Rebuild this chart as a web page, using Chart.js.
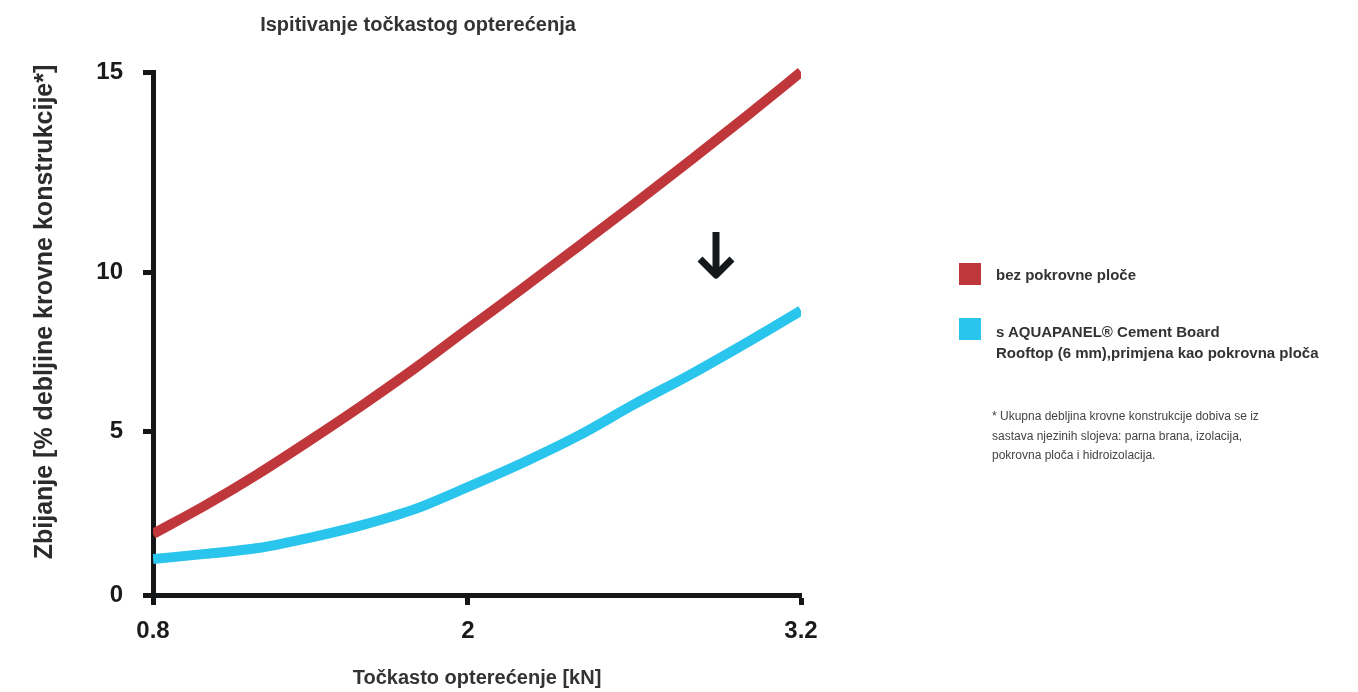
<!DOCTYPE html>
<html>
<head>
<meta charset="utf-8">
<title>Ispitivanje točkastog opterećenja</title>
<script src="https://cdn.jsdelivr.net/npm/chart.js@4.4.1/dist/chart.umd.min.js"></script>
<style>
  body { margin: 0; background: #fff; font-family: "Liberation Sans", Arial, sans-serif; }
  #wrap { position: relative; width: 1358px; height: 692px; }
  .swatch { position: absolute; left: 959px; width: 22px; height: 22px; }
  .leg { position: absolute; left: 996px; font-size: 15px; font-weight: bold; color: #333; line-height: 21px; white-space: nowrap; }
  #note { position: absolute; left: 992px; top: 407px; font-size: 12px; line-height: 19.5px; color: #444; white-space: nowrap; }
</style>
</head>
<body>
<div id="wrap">
  <canvas id="myChart" width="1358" height="692"></canvas>
  <div id="legend"></div>
  <div id="note"></div>
</div>
<script>
// data
var loads = [0.8, 1.0, 1.2, 1.4, 1.6, 1.8, 2.0, 2.2, 2.4, 2.6, 2.8, 3.0, 3.2];
var bezPloce = [1.87, 2.75, 3.71, 4.75, 5.85, 7.01, 8.24, 9.53, 10.67, 11.72, 12.79, 13.88, 15.0];
var sAquapanel = [1.10, 1.26, 1.44, 1.76, 2.15, 2.64, 3.31, 4.06, 4.89, 5.87, 6.79, 7.78, 8.81];
var xTicks = [0.8, 2, 3.2];
var yTicks = [0, 5, 10, 15];

var seriesNames = ['bez pokrovne ploče', 's AQUAPANEL® Cement Board\nRooftop (6 mm),primjena kao pokrovna ploča'];
var seriesColors = ['#c0373b', '#29c5ec'];
var chartTitle = 'Ispitivanje točkastog opterećenja';
var xTitle = 'Točkasto opterećenje [kN]';
var yTitle = 'Zbijanje [% debljine krovne konstrukcije*]';
var noteLines = ['* Ukupna debljina krovne konstrukcije dobiva se iz', 'sastava njezinih slojeva: parna brana, izolacija,', 'pokrovna ploča i hidroizolacija.'];

// the original axes are not evenly spaced, so map values piecewise between ticks
class PiecewiseScale extends Chart.LinearScale {
    toDecimal(v) {
        var vals = this.options.stopValues, fr = this.options.stopFractions;
        for (var i = 1; i < vals.length; i++) {
            if (v <= vals[i] || i === vals.length - 1) {
                return fr[i - 1] + (v - vals[i - 1]) / (vals[i] - vals[i - 1]) * (fr[i] - fr[i - 1]);
            }
        }
        return 0;
    }
    getPixelForValue(value) {
        if (value === null || value === undefined || isNaN(value)) return NaN;
        return this.getPixelForDecimal(this.toDecimal(value));
    }
    getValueForPixel(pixel) {
        var d = this.getDecimalForPixel(pixel);
        var vals = this.options.stopValues, fr = this.options.stopFractions;
        for (var i = 1; i < fr.length; i++) {
            if (d <= fr[i] || i === fr.length - 1) {
                return vals[i - 1] + (d - fr[i - 1]) / (fr[i] - fr[i - 1]) * (vals[i] - vals[i - 1]);
            }
        }
        return vals[0];
    }
}
PiecewiseScale.id = 'piecewise';
PiecewiseScale.defaults = Chart.LinearScale.defaults;
Chart.register(PiecewiseScale);

var extras = {
    id: 'extras',
    afterDraw: function(chart) {
        var ctx = chart.ctx;
        ctx.save();
        ctx.translate(45, 312);
        ctx.rotate(-Math.PI / 2);
        ctx.font = 'bold 25px "Liberation Sans", Arial, sans-serif';
        ctx.fillStyle = '#2b2b2b';
        ctx.textAlign = 'center';
        ctx.textBaseline = 'middle';
        ctx.fillText(yTitle, 0, 0);
        ctx.restore();

        // down arrow
        ctx.save();
        ctx.strokeStyle = '#15181a';
        ctx.lineWidth = 7;
        ctx.beginPath();
        ctx.moveTo(716, 232);
        ctx.lineTo(716, 272);
        ctx.stroke();
        ctx.lineJoin = 'round';
        ctx.beginPath();
        ctx.moveTo(700, 259);
        ctx.lineTo(716, 275);
        ctx.lineTo(732, 259);
        ctx.stroke();
        ctx.restore();
    }
};

function points(ys) {
    return loads.map(function(x, i) { return {x: x, y: ys[i]}; });
}

var axisColor = '#141618';
var ctx = document.getElementById('myChart');
new Chart(ctx, {
    type: 'line',
    data: {
        datasets: [{
            label: seriesNames[0],
            data: points(bezPloce),
            borderColor: seriesColors[0],
            backgroundColor: seriesColors[0],
            borderWidth: 10,
            pointRadius: 0,
            cubicInterpolationMode: 'monotone',
            clip: {left: 0, right: 0, top: 6, bottom: 6}
        }, {
            label: seriesNames[1],
            data: points(sAquapanel),
            borderColor: seriesColors[1],
            backgroundColor: seriesColors[1],
            borderWidth: 10,
            pointRadius: 0,
            cubicInterpolationMode: 'monotone',
            clip: {left: 0, right: 0, top: 6, bottom: 6}
        }]
    },
    options: {
        responsive: false,
        animation: false,
        devicePixelRatio: 1,
        layout: { padding: {left: 35, right: 557, top: 0, bottom: 0} },
        plugins: {
            legend: { display: false },
            tooltip: { enabled: false },
            title: {
                display: true,
                text: chartTitle,
                color: '#333',
                font: { family: '"Liberation Sans", Arial, sans-serif', size: 20, weight: 'bold' },
                padding: { top: 13, bottom: 35 }
            }
        },
        scales: {
            x: {
                type: 'piecewise',
                min: 0.8,
                max: 3.2,
                stopValues: [0.8, 2, 3.2],
                stopFractions: [0, 0.486, 1],
                afterBuildTicks: function(s) { s.ticks = xTicks.map(function(v) { return {value: v}; }); },
                afterFit: function(s) { s.height = 97; },
                border: { display: true, color: axisColor, width: 5 },
                grid: { drawOnChartArea: false, drawTicks: true, tickLength: 10, tickWidth: 5, tickColor: axisColor },
                ticks: {
                    color: '#1a1a1a',
                    padding: 12,
                    maxRotation: 0,
                    font: { family: '"Liberation Sans", Arial, sans-serif', size: 24, weight: 'bold' },
                    callback: function(v) { return String(v); }
                },
                title: {
                    display: true,
                    text: xTitle,
                    color: '#333',
                    font: { family: '"Liberation Sans", Arial, sans-serif', size: 20, weight: 'bold' },
                    padding: { top: 0, bottom: 2 }
                }
            },
            y: {
                type: 'piecewise',
                min: 0,
                max: 15,
                stopValues: [0, 5, 10, 15],
                stopFractions: [0, 0.312, 0.616, 1],
                afterBuildTicks: function(s) { s.ticks = yTicks.map(function(v) { return {value: v}; }); },
                afterFit: function(s) { s.width = 118; },
                border: { display: true, color: axisColor, width: 5 },
                grid: { drawOnChartArea: false, drawTicks: true, tickLength: 10, tickWidth: 5, tickColor: axisColor },
                ticks: {
                    color: '#1a1a1a',
                    padding: 20,
                    font: { family: '"Liberation Sans", Arial, sans-serif', size: 24, weight: 'bold' },
                    callback: function(v) { return String(v); }
                }
            }
        }
    },
    plugins: [extras]
});

// legend and footnote on the right
var legendTops = [263, 318];
var textTops = [263.5, 320.5];
var legend = document.getElementById('legend');
seriesNames.forEach(function(name, i) {
    var sw = document.createElement('div');
    sw.className = 'swatch';
    sw.style.top = legendTops[i] + 'px';
    sw.style.background = seriesColors[i];
    legend.appendChild(sw);
    var t = document.createElement('div');
    t.className = 'leg';
    t.style.top = textTops[i] + 'px';
    t.innerHTML = name.split('\n').join('<br>');
    legend.appendChild(t);
});
document.getElementById('note').innerHTML = noteLines.join('<br>');
</script>
</body>
</html>
